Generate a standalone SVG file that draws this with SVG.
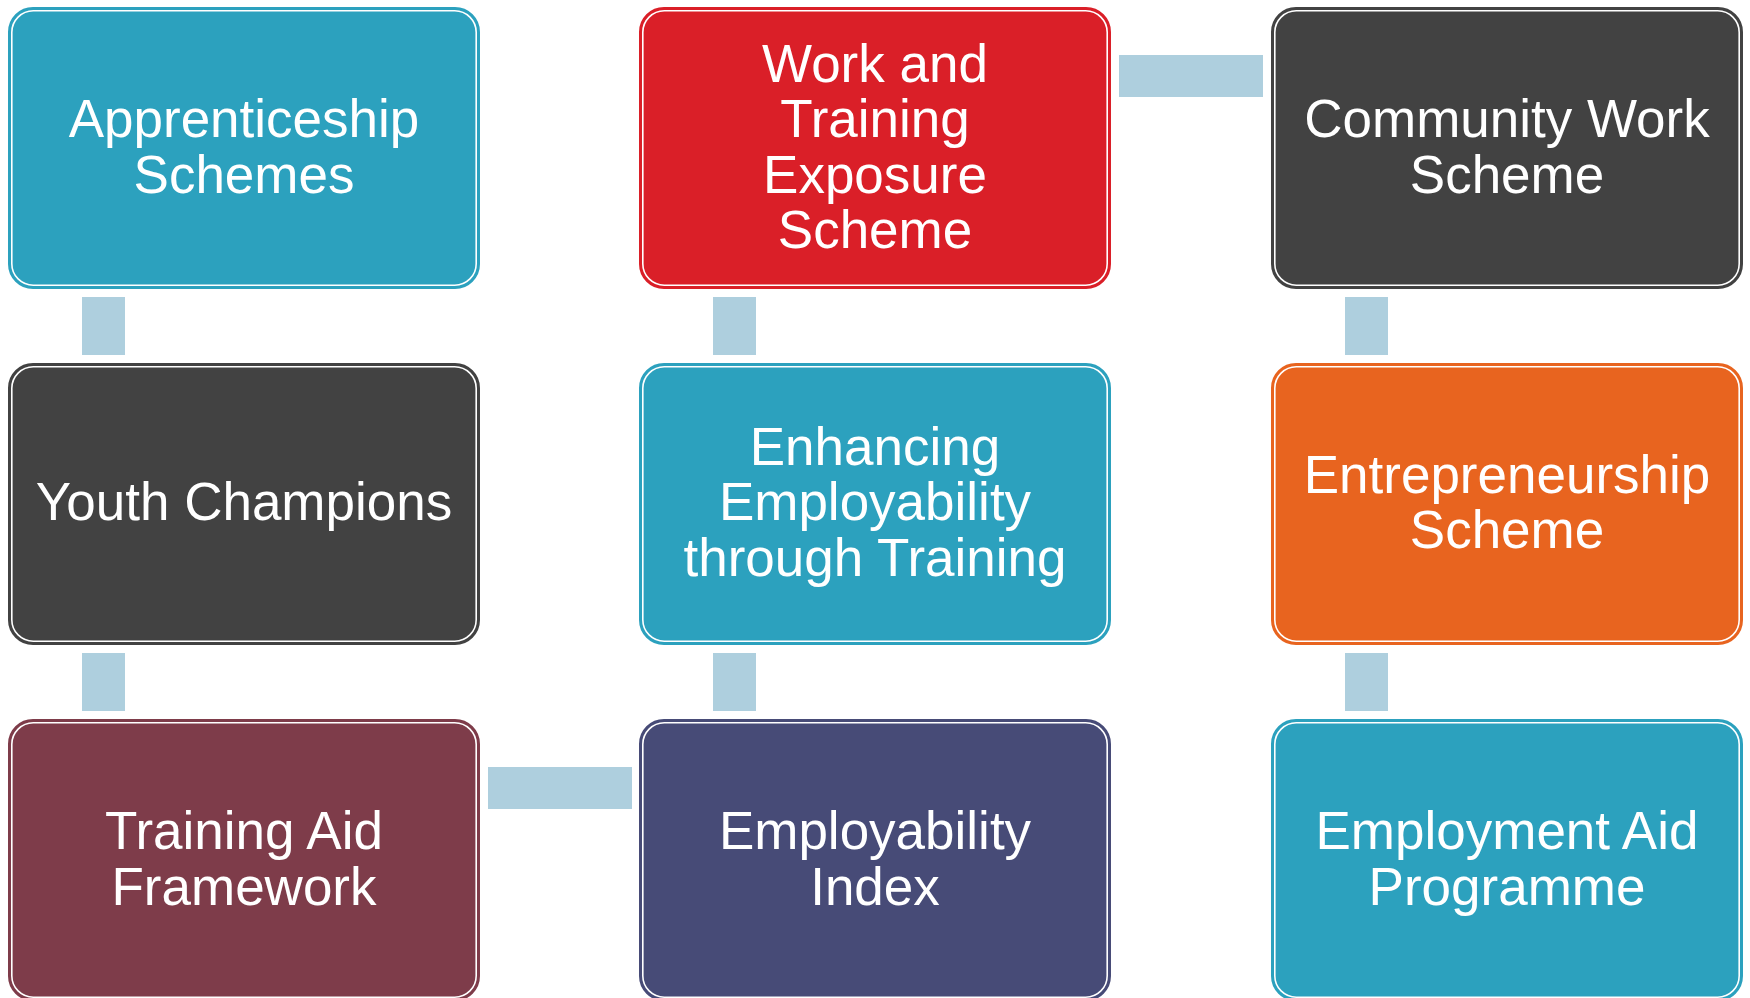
<svg xmlns="http://www.w3.org/2000/svg" width="1750" height="998" viewBox="0 0 1750 998">
<style>
.box{stroke-width:2}
.inner{fill:none;stroke:#ffffff;stroke-width:1.6}
.lbl{font-family:"Liberation Sans",Arial,sans-serif;font-size:53px;fill:#ffffff;text-anchor:middle}
.conn{fill:#AECFDE}
</style>
<rect width="1750" height="998" fill="#ffffff"/>
<g id="connectors">
<rect class="conn" x="82" y="297" width="43" height="58"/>
<rect class="conn" x="82" y="653" width="43" height="58"/>
<rect class="conn" x="713" y="297" width="43" height="58"/>
<rect class="conn" x="713" y="653" width="43" height="58"/>
<rect class="conn" x="1345" y="297" width="43" height="58"/>
<rect class="conn" x="1345" y="653" width="43" height="58"/>
<rect class="conn" x="1119" y="55" width="144" height="42"/>
<rect class="conn" x="488" y="767" width="144" height="42"/>
</g>
<g id="apprenticeship">
<rect class="box" x="9" y="8" width="470" height="280" rx="24" fill="#2CA1BE" stroke="#2CA1BE"/>
<rect class="inner" x="11.8" y="10.8" width="464.4" height="274.4" rx="21.5"/>
<text class="lbl" x="244"><tspan x="244" y="137">Apprenticeship</tspan><tspan x="244" y="193">Schemes</tspan></text>
</g>
<g id="work-training">
<rect class="box" x="640" y="8" width="470" height="280" rx="24" fill="#DA1F28" stroke="#DA1F28"/>
<rect class="inner" x="642.8" y="10.8" width="464.4" height="274.4" rx="21.5"/>
<text class="lbl"><tspan x="875" y="82">Work and</tspan><tspan x="875" y="137">Training</tspan><tspan x="875" y="193">Exposure</tspan><tspan x="875" y="248">Scheme</tspan></text>
</g>
<g id="community-work">
<rect class="box" x="1272" y="8" width="470" height="280" rx="24" fill="#424242" stroke="#424242"/>
<rect class="inner" x="1274.8" y="10.8" width="464.4" height="274.4" rx="21.5"/>
<text class="lbl"><tspan x="1507" y="137">Community Work</tspan><tspan x="1507" y="193">Scheme</tspan></text>
</g>
<g id="youth-champions">
<rect class="box" x="9" y="364" width="470" height="280" rx="24" fill="#424242" stroke="#424242"/>
<rect class="inner" x="11.8" y="366.8" width="464.4" height="274.4" rx="21.5"/>
<text class="lbl"><tspan x="244" y="520">Youth Champions</tspan></text>
</g>
<g id="enhancing-employability">
<rect class="box" x="640" y="364" width="470" height="280" rx="24" fill="#2CA1BE" stroke="#2CA1BE"/>
<rect class="inner" x="642.8" y="366.8" width="464.4" height="274.4" rx="21.5"/>
<text class="lbl"><tspan x="875" y="465">Enhancing</tspan><tspan x="875" y="520">Employability</tspan><tspan x="875" y="576">through Training</tspan></text>
</g>
<g id="entrepreneurship">
<rect class="box" x="1272" y="364" width="470" height="280" rx="24" fill="#E8641F" stroke="#E8641F"/>
<rect class="inner" x="1274.8" y="366.8" width="464.4" height="274.4" rx="21.5"/>
<text class="lbl"><tspan x="1507" y="493">Entrepreneurship</tspan><tspan x="1507" y="548">Scheme</tspan></text>
</g>
<g id="training-aid">
<rect class="box" x="9" y="720" width="470" height="280" rx="24" fill="#7E3C4A" stroke="#7E3C4A"/>
<rect class="inner" x="11.8" y="722.8" width="464.4" height="274.4" rx="21.5"/>
<text class="lbl"><tspan x="244" y="849">Training Aid</tspan><tspan x="244" y="905">Framework</tspan></text>
</g>
<g id="employability-index">
<rect class="box" x="640" y="720" width="470" height="280" rx="24" fill="#474B77" stroke="#474B77"/>
<rect class="inner" x="642.8" y="722.8" width="464.4" height="274.4" rx="21.5"/>
<text class="lbl"><tspan x="875" y="849">Employability</tspan><tspan x="875" y="905">Index</tspan></text>
</g>
<g id="employment-aid">
<rect class="box" x="1272" y="720" width="470" height="280" rx="24" fill="#2CA1BE" stroke="#2CA1BE"/>
<rect class="inner" x="1274.8" y="722.8" width="464.4" height="274.4" rx="21.5"/>
<text class="lbl"><tspan x="1507" y="849">Employment Aid</tspan><tspan x="1507" y="905">Programme</tspan></text>
</g>
</svg>
